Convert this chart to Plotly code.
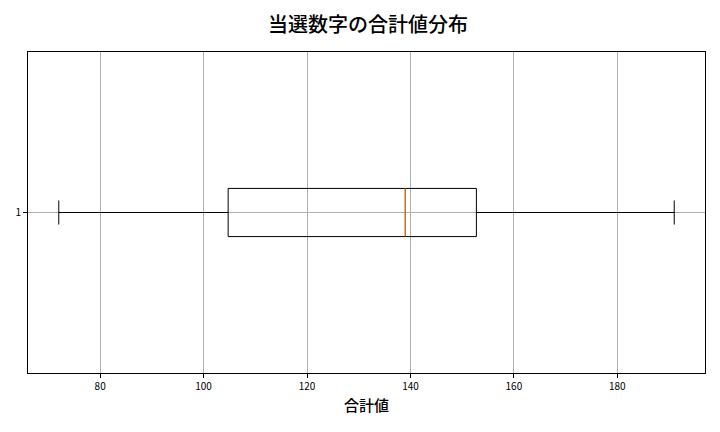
import plotly.graph_objects as go

# 箱ひげ図の統計値
ラベル = [1]
最小値 = [72]
第1四分位 = [104.75]
中央値 = [139]
第3四分位 = [152.75]
最大値 = [191]
x_ticks = [80, 100, 120, 140, 160, 180]

箱の幅 = 0.15
フォント = "Noto Sans CJK JP"

fig = go.Figure()

fig.add_trace(go.Box(
    y=ラベル,
    lowerfence=最小値,
    q1=第1四分位,
    median=中央値,
    q3=第3四分位,
    upperfence=最大値,
    orientation="h",
    width=箱の幅,
    whiskerwidth=0.5,
    fillcolor="rgba(0,0,0,0)",
    line=dict(color="black", width=1),
    boxpoints=False,
    hoverinfo="skip",
))

# 中央値の線（オレンジ）
fig.add_trace(go.Scatter(
    x=[中央値[0], 中央値[0]],
    y=[ラベル[0] - 箱の幅 / 2, ラベル[0] + 箱の幅 / 2],
    mode="lines",
    line=dict(color="#ff7f0e", width=1),
    hoverinfo="skip",
))

# ページ本体の余白（約8px）を見込んで余白を調整
fig.update_layout(
    width=720,
    height=432,
    showlegend=False,
    plot_bgcolor="white",
    paper_bgcolor="white",
    margin=dict(l=20, r=23, t=44, b=67),
    font=dict(family=フォント, color="black", size=10),
    title=dict(
        text="当選数字の合計値分布",
        x=0.5, xanchor="center",
        y=0.96, yanchor="middle",
        font=dict(family=フォント, size=20, color="black", weight=500),
    ),
)

fig.update_xaxes(
    range=[66.05, 196.95],
    tickvals=x_ticks,
    showgrid=True, gridcolor="#b0b0b0", gridwidth=1,
    showline=True, linecolor="black", linewidth=1, mirror=True,
    ticks="outside", ticklen=4, tickcolor="black",
    zeroline=False, automargin=False,
    title=dict(text="合計値", font=dict(family=フォント, size=15, weight=500), standoff=8),
)

fig.update_yaxes(
    range=[0.5, 1.5],
    tickvals=ラベル,
    ticktext=[str(v) for v in ラベル],
    showgrid=True, gridcolor="#b0b0b0", gridwidth=1,
    showline=True, linecolor="black", linewidth=1, mirror=True,
    ticks="outside", ticklen=4, tickcolor="black",
    zeroline=False, automargin=False,
)

fig.write_html("out.html")
